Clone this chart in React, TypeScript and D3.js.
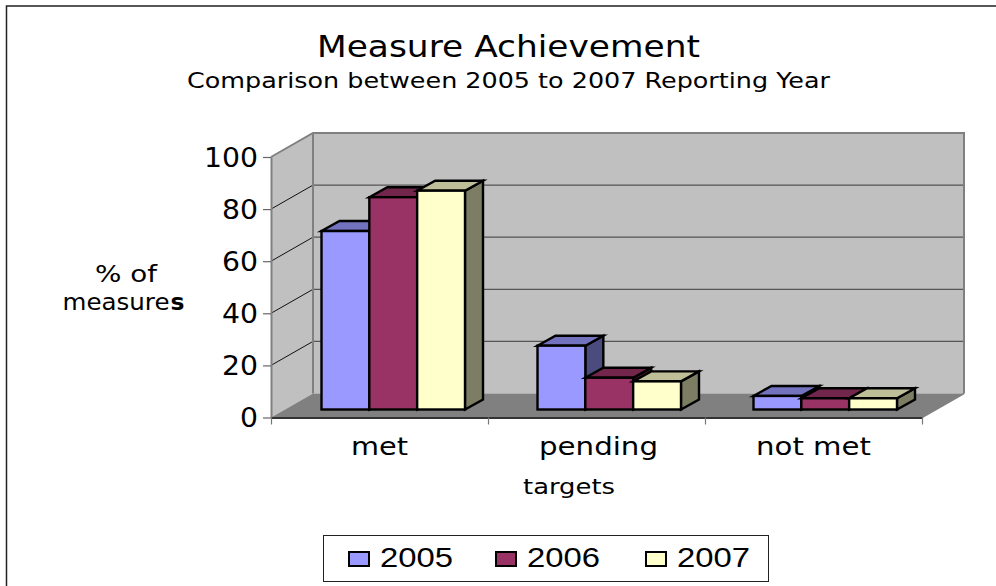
import React, { useEffect, useRef } from "react";
import * as d3 from "d3";

const categories = ["met", "pending", "not met"];
const years = ["2005", "2006", "2007"];
const values2005 = [68.5, 24.5, 5.2];
const values2006 = [81.5, 12.2, 4.3];
const values2007 = [84, 10.8, 4.3];
const seriesValues = [values2005, values2006, values2007];
const seriesColors = ["#9999FF", "#993366", "#FFFFCC"];
const yTicks = [0, 20, 40, 60, 80, 100];

const WIDTH = 996;
const HEIGHT = 586;
const FONT = "'DejaVu Sans', sans-serif";

// how far the back wall and the bar depth are pushed in the fake 3d
const wallDx = 42;
const wallDy = -24;
const barDx = 18;
const barDy = -10;
const barBase = 409.5;

export default function App() {
  const ref = useRef<SVGSVGElement>(null);

  useEffect(() => {
    const svg = d3.select(ref.current);
    svg.selectAll("*").remove();

    const y = d3.scaleLinear().domain([0, 100]).range([417.5, 157]);
    const x = d3.scaleBand<string>().domain(categories).range([271, 922]);
    // bars sit further back than the axis, so they have their own band
    const xBar = d3.scaleBand<string>().domain(categories).range([321.5, 969.5]);
    const xSeries = d3.scaleBand<string>().domain(years).range([0, 143.5]);

    const label = (
      txt: string,
      px: number,
      py: number,
      size: number,
      len: number,
      anchor = "start"
    ) =>
      svg
        .append("text")
        .attr("x", px)
        .attr("y", py)
        .attr("font-family", FONT)
        .attr("font-size", size)
        .attr("text-anchor", anchor)
        .attr("textLength", len)
        .attr("lengthAdjust", "spacingAndGlyphs")
        .attr("fill", "#000")
        .text(txt);

    // frame, only top and left show in the picture
    svg.append("path")
      .attr("d", `M6.5,${HEIGHT} V6 H${WIDTH}`)
      .attr("fill", "none")
      .attr("stroke", "#222")
      .attr("stroke-width", 1.5);

    label("Measure Achievement", 317, 57, 30, 383);
    label("Comparison between 2005 to 2007 Reporting Year", 187, 88, 22, 643);

    const x0 = x.range()[0];
    const x1 = x.range()[1];
    const y0 = y(0);
    const y100 = y(100);
    const poly = (pts: number[][]) => d3.line()(pts as [number, number][]) + "Z";

    // side wall
    svg.append("path")
      .attr("d", poly([[x0, y0], [x0, y100], [x0 + wallDx, y100 + wallDy], [x0 + wallDx, y0 + wallDy]]))
      .attr("fill", "#C0C0C0");
    // back wall
    svg.append("path")
      .attr("d", poly([[x0 + wallDx, y0 + wallDy], [x0 + wallDx, y100 + wallDy], [x1 + wallDx, y100 + wallDy], [x1 + wallDx, y0 + wallDy]]))
      .attr("fill", "#C0C0C0");
    // floor
    svg.append("path")
      .attr("d", poly([[x0, y0], [x1, y0], [x1 + wallDx, y0 + wallDy], [x0 + wallDx, y0 + wallDy]]))
      .attr("fill", "#808080");

    // gridlines
    const inner = yTicks.filter((t) => t > 0 && t < 100);
    svg.append("g").selectAll("line").data(inner).enter().append("line")
      .attr("x1", x0).attr("x2", x0 + wallDx)
      .attr("y1", (d) => y(d)).attr("y2", (d) => y(d) + wallDy)
      .attr("stroke", "#111").attr("stroke-width", 1);
    svg.append("g").selectAll("line").data(inner).enter().append("line")
      .attr("x1", x0 + wallDx).attr("x2", x1 + wallDx)
      .attr("y1", (d) => y(d) + wallDy).attr("y2", (d) => y(d) + wallDy)
      .attr("stroke", "#555").attr("stroke-width", 1.2);

    // wall outlines
    svg.append("path")
      .attr("d", `M${x0},${y100} L${x0 + wallDx},${y100 + wallDy} H${x1 + wallDx} V${y0 + wallDy}`)
      .attr("fill", "none").attr("stroke", "#808080").attr("stroke-width", 2);
    svg.append("path")
      .attr("d", `M${x0 + wallDx},${y100 + wallDy} V${y0 + wallDy}`)
      .attr("fill", "none").attr("stroke", "#808080").attr("stroke-width", 2);
    svg.append("path")
      .attr("d", `M${x1},${y0} L${x1 + wallDx},${y0 + wallDy}`)
      .attr("fill", "none").attr("stroke", "#808080").attr("stroke-width", 1.5);

    // axes
    const yAxis = svg.append("g")
      .attr("transform", `translate(${x0},0)`)
      .call(d3.axisLeft(y).tickValues(yTicks).tickSizeInner(8).tickSizeOuter(0).tickFormat(() => ""));
    yAxis.selectAll("path.domain").attr("stroke", "#808080").attr("stroke-width", 2);
    yAxis.selectAll("line").attr("stroke", "#666").attr("stroke-width", 1.2);

    const tickPositions = [...categories.map((c) => x(c) as number), x1];
    const xAxis = svg.append("g")
      .attr("transform", `translate(0,${y0})`)
      .call(
        d3.axisBottom(d3.scaleIdentity().domain([x0, x1]))
          .tickValues(tickPositions)
          .tickSizeInner(7)
          .tickSizeOuter(0)
          .tickFormat(() => "")
      );
    xAxis.selectAll("path.domain").attr("stroke", "#333").attr("stroke-width", 2);
    xAxis.selectAll("line").attr("stroke", "#777").attr("stroke-width", 1.2);

    yTicks.forEach((t) => {
      const s = String(t);
      label(s, 258, y(t) + 9.5, 27, s.length * 18, "end");
    });

    // bars, left to right so each one covers the side of the previous
    categories.forEach((cat, ci) => {
      years.forEach((yr, si) => {
        const v = seriesValues[si][ci];
        const left = (xBar(cat) as number) + (xSeries(yr) as number);
        const right = left + xSeries.bandwidth();
        const top = barBase - (y(0) - y(v));
        const color = seriesColors[si];
        const g = svg.append("g")
          .attr("stroke", "#000")
          .attr("stroke-width", 2.4)
          .attr("stroke-linejoin", "miter");
        g.append("path")
          .attr("d", poly([[right, barBase], [right, top], [right + barDx, top + barDy], [right + barDx, barBase + barDy]]))
          .attr("fill", d3.rgb(color).darker(2).formatHex());
        g.append("path")
          .attr("d", poly([[left, top], [right, top], [right + barDx, top + barDy], [left + barDx, top + barDy]]))
          .attr("fill", d3.rgb(color).darker(0.83).formatHex());
        g.append("rect")
          .attr("x", left)
          .attr("y", top)
          .attr("width", right - left)
          .attr("height", barBase - top)
          .attr("fill", color);
      });
    });

    // axis titles and category names
    const catWidths = [57, 119, 115];
    categories.forEach((c, i) => {
      const cx = [379.5, 598.5, 813.5][i];
      label(c, cx, 455, 25, catWidths[i], "middle");
    });
    label("targets", 569, 494, 22, 92, "middle");
    label("% of", 126, 282, 23, 62, "middle");
    label("measure", 62.5, 310, 23, 107);
    label("s", 170.5, 310, 23, 14).attr("font-weight", "bold");

    // legend
    svg.append("rect")
      .attr("x", 323.5).attr("y", 535.5)
      .attr("width", 445).attr("height", 46)
      .attr("fill", "#fff").attr("stroke", "#222").attr("stroke-width", 1);
    const legendX = [349, 496, 646];
    years.forEach((yr, i) => {
      svg.append("rect")
        .attr("x", legendX[i]).attr("y", 552)
        .attr("width", 20).attr("height", 14)
        .attr("fill", seriesColors[i])
        .attr("stroke", "#000").attr("stroke-width", 2);
      label(yr, legendX[i] + 31, 566.5, 28, 73).attr("font-family", "'Liberation Sans', sans-serif");
    });
  }, []);

  return (
    <svg
      ref={ref}
      width={WIDTH}
      height={HEIGHT}
      style={{ position: "absolute", left: 0, top: 0, background: "#fff" }}
    />
  );
}
